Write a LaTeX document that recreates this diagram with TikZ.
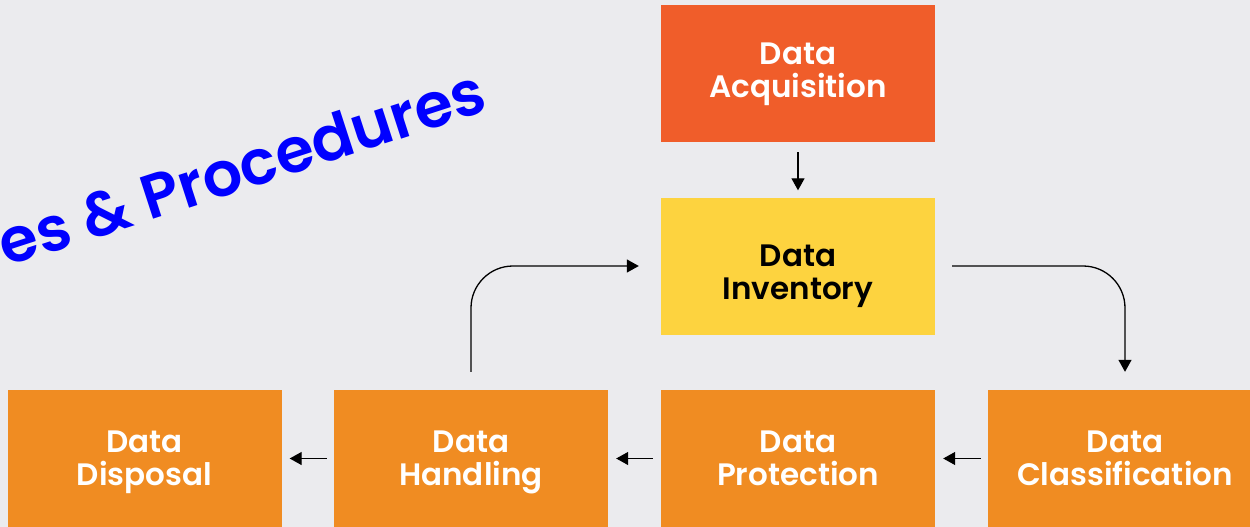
\documentclass[tikz,border=0pt]{standalone}
\usepackage{fontspec}
\usetikzlibrary{arrows.meta}
\newfontfamily\boxfont{Poppins}[UprightFont=* SemiBold]
\newfontfamily\titlefont{Poppins}[UprightFont=* SemiBold]
\definecolor{bgcol}{HTML}{EBEBEE}
\definecolor{acqcol}{HTML}{F05D2A}
\definecolor{invcol}{HTML}{FDD33F}
\definecolor{stepcol}{HTML}{F08C22}
\definecolor{titleblue}{HTML}{0000FF}
\tikzset{
  stagebox/.style={rectangle, inner sep=0pt, minimum width=274pt, minimum height=137pt},
  stagetext/.style={inner sep=0pt, text=white, align=center,
    font=\boxfont\fontsize{31}{33}\selectfont},
  flow/.style={line width=1.3pt, -{Triangle[length=12pt,width=13pt]}}
}
% second line of a stage label, with a fixed descender depth
\newcommand{\stagename}[1]{Data\\#1\vphantom{pg}}
\begin{document}
\begin{tikzpicture}[x=1pt,y=-1pt]
  % canvas
  \fill[bgcol] (0,0) rectangle (1250,527);
  \useasboundingbox (0,0) rectangle (1250,527);

  % heading, running off the left edge
  \node[rotate=18, anchor=base east, inner sep=0pt, text=titleblue,
        font=\titlefont\fontsize{62}{66}\selectfont] (title) at (490,110) {es \& Procedures};

  % stage boxes
  \node[stagebox, fill=acqcol] (acq) at (798,73.5) {};
  \node[stagebox, fill=invcol] (inv) at (798,266) {};
  \node[stagebox, fill=stepcol] (disp) at (144.5,458.5) {};
  \node[stagebox, fill=stepcol] (hand) at (471,458.5) {};
  \node[stagebox, fill=stepcol] (prot) at (798,458.5) {};
  \node[stagebox, fill=stepcol] (clas) at (1125,458.5) {};

  % stage labels
  \node[stagetext] (acqtext) at ([yshift=-1pt]acq.center) {\stagename{Acquisition}};
  \node[stagetext, text=black] (invtext) at ([yshift=-10pt]inv.center) {\stagename{Inventory}};
  \node[stagetext] (disptext) at ([yshift=-4pt]disp.center) {\stagename{Disposal}};
  \node[stagetext] (handtext) at ([yshift=-4pt]hand.center) {\stagename{Handling}};
  \node[stagetext] (prottext) at ([yshift=-4pt]prot.center) {\stagename{Protection}};
  \node[stagetext] (clastext) at ([yshift=-4pt]clas.center) {\stagename{Classification}};

  % connectors
  \draw[flow] ([yshift=-10pt]acq.south) -- ([yshift=7pt]inv.north);
  \draw[flow, rounded corners=42pt] ([yshift=18pt]hand.north) |- ([xshift=-22pt]inv.west);
  \draw[flow, rounded corners=42pt] ([xshift=17pt]inv.east) -| ([yshift=18pt]clas.north);
  \draw[flow] ([xshift=-7pt]clas.west) -- ([xshift=8pt]prot.east);
  \draw[flow] ([xshift=-8pt]prot.west) -- ([xshift=8pt]hand.east);
  \draw[flow] ([xshift=-7pt]hand.west) -- ([xshift=8pt]disp.east);
\end{tikzpicture}
\end{document}
